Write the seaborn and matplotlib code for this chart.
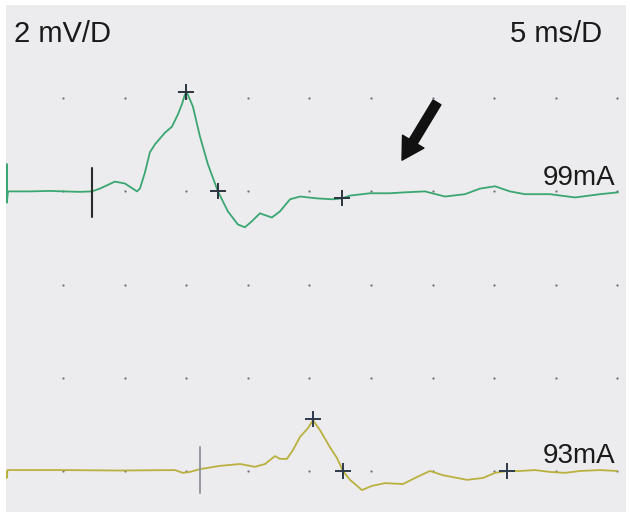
import numpy as np
import pandas as pd
import seaborn as sns
import matplotlib.pyplot as plt

# Trace at 99 mA (ms, mV relative to its own baseline)
t99 = [0.45, 0.45, 0.45, 0.54, 2.32, 3.94, 5.0, 6.38, 7.35, 8.0, 9.22, 10.03, 11.01,
       11.25, 11.66, 12.06, 12.47, 13.28, 13.85, 14.33, 14.66, 14.90, 15.06, 15.31,
       15.55, 16.12, 16.77, 17.58, 18.39, 19.20, 19.77, 20.34, 20.99, 21.40, 21.96,
       22.61, 23.43, 24.24, 25.62, 26.92, 27.65, 28.30, 29.92, 31.54, 32.76, 34.38,
       36.01, 37.63, 38.85, 40.07, 41.28, 42.50, 44.53, 46.56, 48.59, 50.05]
v99 = [0.0, 0.58, -0.24, 0.0, 0.0, 0.01, 0.0, -0.01, 0.0, 0.06, 0.21, 0.17, 0.0,
       0.06, 0.41, 0.84, 1.01, 1.26, 1.39, 1.65, 1.87, 2.08, 2.12, 1.97,
       1.82, 1.18, 0.58, 0.0, -0.43, -0.71, -0.77, -0.64, -0.47, -0.51, -0.56,
       -0.43, -0.17, -0.11, -0.15, -0.17, -0.15, -0.09, -0.04, -0.04, -0.02, 0.0,
       -0.11, -0.06, 0.06, 0.11, 0.0, -0.06, -0.06, -0.13, -0.06, -0.02]

# Trace at 93 mA
t93 = [0.45, 0.45, 0.50, 4.76, 9.63, 14.09, 14.74, 15.31, 16.12, 17.74, 19.37, 20.58,
       21.40, 22.21, 22.61, 23.18, 23.67, 24.24, 24.89, 25.29, 25.86, 26.67, 27.24,
       27.73, 28.30, 29.27, 30.08, 31.14, 32.60, 33.73, 34.79, 35.84, 37.79, 39.09,
       40.07, 41.04, 42.09, 43.31, 44.53, 45.75, 46.97, 48.59, 49.97]
v93 = [-0.02, -0.15, 0.02, 0.02, 0.01, 0.02, -0.04, -0.02, 0.04, 0.11, 0.15, 0.09,
       0.15, 0.32, 0.26, 0.26, 0.45, 0.73, 0.92, 1.09, 0.88, 0.51, 0.28,
       0.0, -0.19, -0.41, -0.32, -0.26, -0.28, -0.13, 0.0, -0.09, -0.19, -0.15,
       -0.04, 0.0, 0.0, 0.02, -0.02, -0.04, 0.0, 0.02, 0.0]

# cursor marks (+) and stimulus marks
cur99_t = [14.98, 17.58, 27.65]
cur99_v = [2.14, 0.0, -0.15]
cur93_t = [25.29, 27.73, 41.04]
cur93_v = [1.11, 0.0, 0.0]
stim99_t = 7.35
stim93_t = 16.12

labels = ['99mA', '93mA']
offsets = [6.0, 0.0]   # baseline of each trace (3 divisions apart)

sns.set_theme(style='white')
plt.rcParams['font.family'] = ['Liberation Sans', 'DejaVu Sans']

fig = plt.figure(figsize=(6.3, 5.16), dpi=100, facecolor='white')
ax = fig.add_axes([6 / 630, 4 / 516, 620 / 630, 507 / 516])
ax.set_facecolor('#ecebed')
ax.set_xlim(0.38, 50.7)
ax.set_ylim(-0.88, 10.0)
ax.set_xticks([])
ax.set_yticks([])
for s in ax.spines.values():
    s.set_visible(False)

# division dots
gx, gy = np.meshgrid(np.arange(5, 51, 5), np.arange(0, 9, 2))
ax.scatter(gx.ravel(), gy.ravel(), s=2.5, color='#6c6f7a', zorder=1, linewidths=0)

top = pd.DataFrame({'t': t99, 'v': np.array(v99) + offsets[0]})
bot = pd.DataFrame({'t': t93, 'v': np.array(v93) + offsets[1]})
sns.lineplot(data=top, x='t', y='v', sort=False, estimator=None, color='#3aa772',
             lw=1.3, ax=ax, zorder=3)
sns.lineplot(data=bot, x='t', y='v', sort=False, estimator=None, color='#b9b13f',
             lw=1.3, ax=ax, zorder=3)
ax.set_xlabel('')
ax.set_ylabel('')

# stimulus markers
ax.plot([stim99_t, stim99_t], [offsets[0] - 0.54, offsets[0] + 0.51], color='#2a2a2a', lw=1.5, zorder=4)
ax.plot([stim93_t, stim93_t], [offsets[1] - 0.47, offsets[1] + 0.51], color='#8c9199', lw=1.3, zorder=4)

# cursors
ax.plot(cur99_t, np.array(cur99_v) + offsets[0], ls='none', marker='+', ms=12, mew=1.4,
        color='#2b3340', zorder=5)
ax.plot(cur93_t, np.array(cur93_v) + offsets[1], ls='none', marker='+', ms=12, mew=1.4,
        color='#2d3a4a', zorder=5)

# labels
ax.text(49.8, offsets[0] + 0.13, labels[0], ha='right', va='baseline', fontsize=20, color='#1a1a1a')
ax.text(49.8, offsets[1] + 0.17, labels[1], ha='right', va='baseline', fontsize=20, color='#1a1a1a')
fig.text(14 / 630, 1 - 42 / 516, '2 mV/D', ha='left', va='baseline', fontsize=21, color='#1a1a1a')
fig.text(602 / 630, 1 - 42 / 516, '5 ms/D', ha='right', va='baseline', fontsize=21, color='#1a1a1a')

# arrow pointing at the flat part of the top trace
ax.annotate('', xy=(32.52, 6.67), xytext=(35.36, 7.91),
            arrowprops=dict(arrowstyle='simple,head_length=1.3,head_width=1.5,tail_width=0.55',
                            color='#111111', mutation_scale=12, shrinkA=0, shrinkB=0))

fig.savefig('out.png', dpi=100)
